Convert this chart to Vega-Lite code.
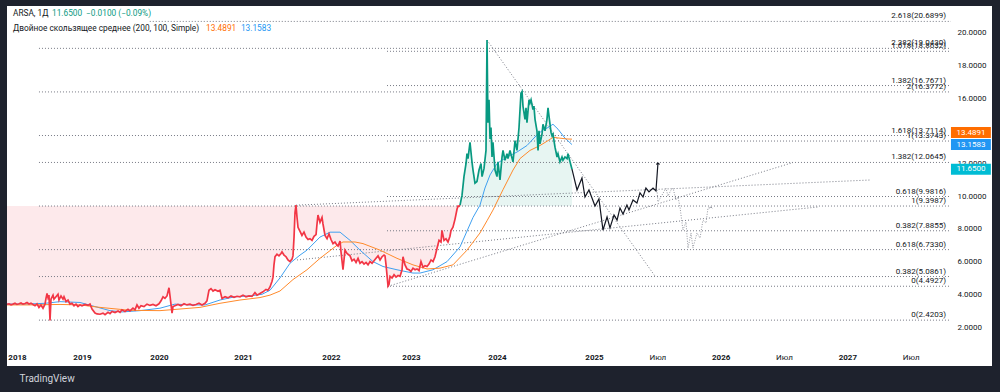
{
"$schema": "https://vega.github.io/schema/vega-lite/v6.json",
"width": 985, "height": 360,
"autosize": {"type": "none"},
"padding": {"left": 7, "top": 6, "right": 8, "bottom": 26},
"background": "#1e222d",
"config": {"view": {"stroke": null, "fill": "#ffffff"}, "font": "Roboto",
  "axis": {"grid": false, "domain": false, "ticks": false, "tickSize": 0, "labelPadding": 0, "title": null, "labelColor": "#131722", "labelFontSize": 8, "labelFont": "Roboto", "labelOverlap": false, "labelFlush": false, "labelBound": false}},
"title": {"text": "TradingView", "orient": "bottom", "anchor": "start", "color": "#d1d4dc", "fontSize": 10, "fontWeight": "normal", "font": "Roboto", "offset": 8, "dx": 16},
"datasets": {
"price": [
{"t":2017.846,"v":3.39},{"t":2017.877,"v":3.42},{"t":2017.908,"v":3.36},{"t":2017.938,"v":3.40},{"t":2017.969,"v":3.45},{"t":2018.000,"v":3.38},{"t":2018.031,"v":3.42},{"t":2018.062,"v":3.47},{"t":2018.092,"v":3.40},{"t":2018.123,"v":3.44},{"t":2018.154,"v":3.50},{"t":2018.185,"v":3.41},{"t":2018.215,"v":3.46},{"t":2018.246,"v":3.38},{"t":2018.277,"v":3.30},{"t":2018.308,"v":3.42},{"t":2018.338,"v":3.20},{"t":2018.369,"v":3.35},{"t":2018.400,"v":3.15},{"t":2018.431,"v":3.40},{"t":2018.446,"v":3.75},{"t":2018.462,"v":4.05},{"t":2018.477,"v":3.80},{"t":2018.492,"v":3.95},{"t":2018.508,"v":2.40},{"t":2018.523,"v":3.70},{"t":2018.554,"v":3.95},{"t":2018.569,"v":3.70},{"t":2018.600,"v":3.85},{"t":2018.631,"v":4.00},{"t":2018.646,"v":3.65},{"t":2018.677,"v":3.90},{"t":2018.708,"v":3.70},{"t":2018.723,"v":3.85},{"t":2018.754,"v":3.55},{"t":2018.785,"v":3.65},{"t":2018.815,"v":3.40},{"t":2018.846,"v":3.45},{"t":2018.877,"v":3.30},{"t":2018.908,"v":3.40},{"t":2018.938,"v":3.25},{"t":2018.969,"v":3.35},{"t":2019.000,"v":3.30},
{"t":2019.039,"v":3.38},{"t":2019.078,"v":3.32},{"t":2019.104,"v":3.40},{"t":2019.130,"v":3.10},{"t":2019.169,"v":2.85},{"t":2019.195,"v":2.80},{"t":2019.234,"v":2.78},{"t":2019.273,"v":2.85},{"t":2019.299,"v":2.76},{"t":2019.338,"v":2.90},{"t":2019.364,"v":2.82},{"t":2019.390,"v":2.95},{"t":2019.429,"v":2.88},{"t":2019.468,"v":2.98},{"t":2019.494,"v":2.90},{"t":2019.519,"v":3.05},{"t":2019.558,"v":2.95},{"t":2019.597,"v":3.08},{"t":2019.623,"v":2.98},{"t":2019.662,"v":3.15},{"t":2019.688,"v":3.05},{"t":2019.714,"v":3.35},{"t":2019.740,"v":3.15},{"t":2019.766,"v":3.30},{"t":2019.805,"v":3.25},{"t":2019.844,"v":3.40},{"t":2019.883,"v":3.32},{"t":2019.922,"v":3.38},{"t":2019.961,"v":3.30},{"t":2020.000,"v":3.42},
{"t":2020.024,"v":3.60},{"t":2020.048,"v":3.85},{"t":2020.071,"v":3.75},{"t":2020.095,"v":3.90},{"t":2020.119,"v":4.40},{"t":2020.131,"v":3.90},{"t":2020.155,"v":2.85},{"t":2020.167,"v":3.25},{"t":2020.190,"v":3.30},{"t":2020.226,"v":3.38},{"t":2020.262,"v":3.30},{"t":2020.298,"v":3.42},{"t":2020.333,"v":3.35},{"t":2020.369,"v":3.40},{"t":2020.405,"v":3.32},{"t":2020.440,"v":3.38},{"t":2020.476,"v":3.45},{"t":2020.512,"v":3.35},{"t":2020.548,"v":3.45},{"t":2020.571,"v":3.60},{"t":2020.595,"v":4.25},{"t":2020.619,"v":4.35},{"t":2020.643,"v":4.20},{"t":2020.667,"v":4.28},{"t":2020.702,"v":4.18},{"t":2020.726,"v":4.25},{"t":2020.750,"v":3.75},{"t":2020.786,"v":3.85},{"t":2020.821,"v":3.78},{"t":2020.857,"v":3.90},{"t":2020.893,"v":3.82},{"t":2020.929,"v":3.88},{"t":2020.964,"v":3.85},{"t":2021.000,"v":3.95},
{"t":2021.034,"v":3.85},{"t":2021.068,"v":3.90},{"t":2021.102,"v":3.87},{"t":2021.136,"v":4.10},{"t":2021.159,"v":3.95},{"t":2021.193,"v":4.05},{"t":2021.227,"v":4.15},{"t":2021.261,"v":4.30},{"t":2021.284,"v":4.25},{"t":2021.307,"v":4.45},{"t":2021.330,"v":4.80},{"t":2021.341,"v":5.05},{"t":2021.352,"v":5.80},{"t":2021.364,"v":6.30},{"t":2021.386,"v":6.45},{"t":2021.409,"v":6.35},{"t":2021.432,"v":6.50},{"t":2021.443,"v":6.60},{"t":2021.466,"v":6.40},{"t":2021.489,"v":6.30},{"t":2021.511,"v":6.10},{"t":2021.534,"v":6.00},{"t":2021.557,"v":6.15},{"t":2021.568,"v":6.35},{"t":2021.580,"v":7.50},{"t":2021.591,"v":9.00},{"t":2021.602,"v":9.45},{"t":2021.614,"v":8.70},{"t":2021.625,"v":8.10},{"t":2021.648,"v":7.85},{"t":2021.670,"v":7.60},{"t":2021.693,"v":7.80},{"t":2021.716,"v":7.50},{"t":2021.739,"v":7.35},{"t":2021.761,"v":7.40},{"t":2021.784,"v":7.30},{"t":2021.807,"v":7.55},{"t":2021.830,"v":7.65},{"t":2021.841,"v":8.30},{"t":2021.852,"v":8.85},{"t":2021.875,"v":8.40},{"t":2021.898,"v":8.70},{"t":2021.909,"v":8.30},{"t":2021.932,"v":7.60},{"t":2021.955,"v":7.40},{"t":2021.977,"v":7.70},{"t":2022.000,"v":7.35},
{"t":2022.025,"v":7.10},{"t":2022.050,"v":7.20},{"t":2022.075,"v":7.00},{"t":2022.088,"v":6.95},{"t":2022.113,"v":7.25},{"t":2022.125,"v":6.60},{"t":2022.150,"v":5.50},{"t":2022.175,"v":6.70},{"t":2022.200,"v":6.50},{"t":2022.238,"v":6.35},{"t":2022.263,"v":6.05},{"t":2022.288,"v":6.15},{"t":2022.313,"v":5.95},{"t":2022.338,"v":6.20},{"t":2022.363,"v":5.90},{"t":2022.388,"v":6.00},{"t":2022.413,"v":5.85},{"t":2022.438,"v":5.95},{"t":2022.463,"v":5.80},{"t":2022.488,"v":6.00},{"t":2022.513,"v":5.90},{"t":2022.538,"v":6.05},{"t":2022.563,"v":6.20},{"t":2022.588,"v":6.35},{"t":2022.613,"v":6.10},{"t":2022.638,"v":6.30},{"t":2022.663,"v":6.40},{"t":2022.675,"v":6.35},{"t":2022.688,"v":5.80},{"t":2022.713,"v":4.50},{"t":2022.725,"v":4.60},{"t":2022.738,"v":5.10},{"t":2022.763,"v":5.00},{"t":2022.788,"v":5.20},{"t":2022.813,"v":5.05},{"t":2022.838,"v":5.15},{"t":2022.863,"v":5.10},{"t":2022.888,"v":5.50},{"t":2022.900,"v":6.30},{"t":2022.925,"v":5.80},{"t":2022.950,"v":5.55},{"t":2022.975,"v":5.50},{"t":2023.000,"v":5.40},
{"t":2023.023,"v":5.60},{"t":2023.047,"v":5.50},{"t":2023.070,"v":5.55},{"t":2023.093,"v":5.45},{"t":2023.116,"v":6.00},{"t":2023.140,"v":5.65},{"t":2023.163,"v":5.75},{"t":2023.186,"v":5.70},{"t":2023.209,"v":5.85},{"t":2023.233,"v":6.10},{"t":2023.256,"v":6.00},{"t":2023.279,"v":6.30},{"t":2023.302,"v":6.80},{"t":2023.326,"v":7.30},{"t":2023.349,"v":7.20},{"t":2023.360,"v":7.90},{"t":2023.384,"v":7.30},{"t":2023.407,"v":7.40},{"t":2023.430,"v":7.20},{"t":2023.453,"v":7.55},{"t":2023.465,"v":7.90},{"t":2023.488,"v":8.10},{"t":2023.512,"v":8.60},{"t":2023.535,"v":9.20},{"t":2023.547,"v":9.40},{"t":2023.558,"v":9.38},{"t":2023.570,"v":9.45},
{"t":2023.593,"v":10.05},{"t":2023.616,"v":11.2},{"t":2023.640,"v":12.0},{"t":2023.651,"v":12.6},{"t":2023.663,"v":12.3},{"t":2023.686,"v":13.3},{"t":2023.709,"v":12.1},{"t":2023.721,"v":11.6},{"t":2023.744,"v":10.8},{"t":2023.767,"v":10.9},{"t":2023.791,"v":11.6},{"t":2023.814,"v":12.0},{"t":2023.826,"v":11.2},{"t":2023.849,"v":11.7},{"t":2023.872,"v":12.8},{"t":2023.884,"v":19.55},{"t":2023.895,"v":14.5},{"t":2023.907,"v":15.9},{"t":2023.919,"v":13.5},{"t":2023.930,"v":14.2},{"t":2023.942,"v":12.4},{"t":2023.953,"v":13.3},{"t":2023.977,"v":11.6},{"t":2024.000,"v":11.2},{"t":2024.010,"v":12.1},{"t":2024.031,"v":11.0},{"t":2024.052,"v":12.4},{"t":2024.062,"v":12.8},{"t":2024.082,"v":12.2},{"t":2024.103,"v":12.6},{"t":2024.113,"v":12.3},{"t":2024.134,"v":12.8},{"t":2024.165,"v":12.1},{"t":2024.186,"v":13.4},{"t":2024.206,"v":12.8},{"t":2024.227,"v":14.2},{"t":2024.247,"v":16.3},{"t":2024.258,"v":16.4},{"t":2024.268,"v":15.5},{"t":2024.289,"v":14.7},{"t":2024.299,"v":15.4},{"t":2024.309,"v":14.5},{"t":2024.330,"v":15.9},{"t":2024.340,"v":15.7},{"t":2024.351,"v":15.9},{"t":2024.371,"v":15.3},{"t":2024.381,"v":15.5},{"t":2024.392,"v":14.7},{"t":2024.412,"v":14.0},{"t":2024.423,"v":12.8},{"t":2024.433,"v":14.0},{"t":2024.443,"v":13.2},{"t":2024.464,"v":13.8},{"t":2024.474,"v":14.4},{"t":2024.495,"v":14.0},{"t":2024.515,"v":14.7},{"t":2024.526,"v":15.4},{"t":2024.536,"v":14.9},{"t":2024.557,"v":13.9},{"t":2024.567,"v":13.7},{"t":2024.577,"v":13.8},{"t":2024.598,"v":13.0},{"t":2024.619,"v":12.4},{"t":2024.629,"v":12.6},{"t":2024.649,"v":12.1},{"t":2024.670,"v":12.4},{"t":2024.680,"v":12.2},{"t":2024.701,"v":12.4},{"t":2024.722,"v":12.3},{"t":2024.732,"v":12.6},{"t":2024.753,"v":12.1},{"t":2024.773,"v":11.65}
],
"ma": [
{"m":"100","t":2017.846,"v":3.40},{"m":"100","t":2018.123,"v":3.40},{"m":"100","t":2018.431,"v":3.45},{"m":"100","t":2018.662,"v":3.55},{"m":"100","t":2018.969,"v":3.50},{"m":"100","t":2019.169,"v":3.25},{"m":"100","t":2019.364,"v":3.00},{"m":"100","t":2019.519,"v":2.92},{"m":"100","t":2019.753,"v":3.00},{"m":"100","t":2020.012,"v":3.15},{"m":"100","t":2020.190,"v":3.40},{"m":"100","t":2020.369,"v":3.35},{"m":"100","t":2020.548,"v":3.35},{"m":"100","t":2020.726,"v":3.65},{"m":"100","t":2020.905,"v":3.85},{"m":"100","t":2021.080,"v":3.90},{"m":"100","t":2021.216,"v":4.00},{"m":"100","t":2021.307,"v":4.25},{"m":"100","t":2021.420,"v":5.00},{"m":"100","t":2021.534,"v":5.90},{"m":"100","t":2021.648,"v":6.40},{"m":"100","t":2021.727,"v":6.70},{"m":"100","t":2021.875,"v":7.50},{"m":"100","t":2021.989,"v":7.80},{"m":"100","t":2022.113,"v":7.80},{"m":"100","t":2022.238,"v":7.30},{"m":"100","t":2022.363,"v":6.70},{"m":"100","t":2022.525,"v":6.00},{"m":"100","t":2022.650,"v":5.70},{"m":"100","t":2022.825,"v":5.50},{"m":"100","t":2023.023,"v":5.30},{"m":"100","t":2023.105,"v":5.30},{"m":"100","t":2023.256,"v":5.50},{"m":"100","t":2023.419,"v":6.00},{"m":"100","t":2023.570,"v":6.90},{"m":"100","t":2023.721,"v":8.70},{"m":"100","t":2023.802,"v":9.45},{"m":"100","t":2023.860,"v":10.5},{"m":"100","t":2023.919,"v":11.3},{"m":"100","t":2024.000,"v":12.0},{"m":"100","t":2024.103,"v":12.4},{"m":"100","t":2024.206,"v":12.7},{"m":"100","t":2024.309,"v":13.1},{"m":"100","t":2024.412,"v":13.75},{"m":"100","t":2024.474,"v":14.05},{"m":"100","t":2024.526,"v":14.2},{"m":"100","t":2024.577,"v":14.4},{"m":"100","t":2024.629,"v":14.1},{"m":"100","t":2024.701,"v":13.55},{"m":"100","t":2024.773,"v":13.1583},
{"m":"200","t":2017.846,"v":3.35},{"m":"200","t":2018.200,"v":3.35},{"m":"200","t":2018.662,"v":3.38},{"m":"200","t":2018.969,"v":3.35},{"m":"200","t":2019.234,"v":3.20},{"m":"200","t":2019.623,"v":3.02},{"m":"200","t":2020.012,"v":3.00},{"m":"200","t":2020.250,"v":3.10},{"m":"200","t":2020.488,"v":3.20},{"m":"200","t":2020.726,"v":3.45},{"m":"200","t":2020.964,"v":3.65},{"m":"200","t":2021.193,"v":3.80},{"m":"200","t":2021.307,"v":3.95},{"m":"200","t":2021.420,"v":4.20},{"m":"200","t":2021.568,"v":4.90},{"m":"200","t":2021.727,"v":5.50},{"m":"200","t":2021.875,"v":6.20},{"m":"200","t":2022.075,"v":7.00},{"m":"200","t":2022.150,"v":7.20},{"m":"200","t":2022.300,"v":7.20},{"m":"200","t":2022.400,"v":7.10},{"m":"200","t":2022.613,"v":6.70},{"m":"200","t":2022.825,"v":6.20},{"m":"200","t":2023.023,"v":5.80},{"m":"200","t":2023.186,"v":5.55},{"m":"200","t":2023.337,"v":5.60},{"m":"200","t":2023.488,"v":5.80},{"m":"200","t":2023.651,"v":6.70},{"m":"200","t":2023.802,"v":7.75},{"m":"200","t":2023.884,"v":8.50},{"m":"200","t":2023.953,"v":9.15},{"m":"200","t":2024.062,"v":10.4},{"m":"200","t":2024.165,"v":11.6},{"m":"200","t":2024.237,"v":12.3},{"m":"200","t":2024.340,"v":12.8},{"m":"200","t":2024.443,"v":13.1},{"m":"200","t":2024.526,"v":13.4},{"m":"200","t":2024.577,"v":13.6},{"m":"200","t":2024.649,"v":13.55},{"m":"200","t":2024.722,"v":13.5},{"m":"200","t":2024.773,"v":13.4891}
],
"fib": [
{"label":"0(2.4203)","t":2018.338,"t1":2027.818,"v":2.4203},
{"label":"0.382(5.0861)","t":2018.338,"t1":2027.818,"v":5.0861},
{"label":"0.618(6.7330)","t":2018.338,"t1":2027.818,"v":6.733},
{"label":"1(9.3987)","t":2018.338,"t1":2027.818,"v":9.3987},
{"label":"1.382(12.0645)","t":2018.338,"t1":2027.818,"v":12.0645},
{"label":"1.618(13.7114)","t":2018.338,"t1":2027.818,"v":13.7114},
{"label":"2(16.3772)","t":2018.338,"t1":2027.818,"v":16.3772},
{"label":"2.382(19.0430)","t":2018.338,"t1":2027.818,"v":19.043},
{"label":"2.618(20.6899)","t":2019.88,"t1":2027.818,"v":20.6899},
{"label":"0(4.4927)","t":2022.70,"t1":2027.818,"v":4.4927},
{"label":"0.382(7.8855)","t":2022.70,"t1":2027.818,"v":7.8855},
{"label":"0.618(9.9816)","t":2022.70,"t1":2027.818,"v":9.9816},
{"label":"1(13.3743)","t":2022.70,"t1":2027.818,"v":13.3743},
{"label":"1.382(16.7671)","t":2022.70,"t1":2027.818,"v":16.7671},
{"label":"1.618(18.8632)","t":2022.70,"t1":2027.818,"v":18.8632}
],
"trend": [
{"t":2023.884,"t1":2025.481,"v":19.55,"v1":5.12},
{"t":2022.713,"t1":2026.571,"v":4.49,"v1":12.06},
{"t":2021.602,"t1":2027.178,"v":9.45,"v1":10.99},
{"t":2021.614,"t1":2026.768,"v":6.10,"v1":9.34}
],
"path": [
{"t":2024.773,"v":11.65},{"t":2024.825,"v":10.38},{"t":2024.876,"v":11.11},{"t":2024.907,"v":9.95},{"t":2024.948,"v":10.38},{"t":2025.008,"v":9.40},{"t":2025.039,"v":9.83},{"t":2025.071,"v":7.93},{"t":2025.103,"v":8.73},{"t":2025.126,"v":8.06},{"t":2025.158,"v":8.85},{"t":2025.182,"v":8.54},{"t":2025.205,"v":9.28},{"t":2025.229,"v":8.91},{"t":2025.260,"v":9.46},{"t":2025.276,"v":9.16},{"t":2025.308,"v":9.77},{"t":2025.339,"v":9.58},{"t":2025.363,"v":10.20},{"t":2025.387,"v":9.95},{"t":2025.410,"v":10.50},{"t":2025.434,"v":10.26},{"t":2025.466,"v":10.50},{"t":2025.489,"v":10.32},{"t":2025.505,"v":12.03}
],
"ghost": [
{"t":2025.497,"v":10.38},{"t":2025.505,"v":9.65},{"t":2025.537,"v":10.07},{"t":2025.568,"v":10.50},{"t":2025.584,"v":10.01},{"t":2025.608,"v":10.38},{"t":2025.624,"v":10.50},{"t":2025.647,"v":9.77},{"t":2025.663,"v":9.95},{"t":2025.679,"v":9.34},{"t":2025.702,"v":7.93},{"t":2025.726,"v":8.42},{"t":2025.742,"v":6.83},{"t":2025.766,"v":7.75},{"t":2025.781,"v":6.83},{"t":2025.813,"v":7.75},{"t":2025.837,"v":7.44},{"t":2025.860,"v":8.54},{"t":2025.884,"v":8.36},{"t":2025.900,"v":9.28},{"t":2025.923,"v":9.34}
]
},
"layer": [
  {"data": {"name": "price"}, "transform": [{"filter": "datum.t <= 2023.57"}], "mark": {"type": "area", "color": "#fde9eb"},
   "encoding": {
    "x": {"field": "t", "type": "quantitative",
      "scale": {"domain": [2017.846, 2018, 2019, 2020, 2021, 2022, 2023, 2024, 2025, 2028.142], "range": [0, 10, 75, 152, 236, 324, 404, 490, 587, 985], "nice": false, "zero": false},
      "axis": {"orient": "bottom", "values": [2018, 2019, 2020, 2021, 2022, 2023, 2024, 2025, 2025.5, 2026, 2026.5, 2027, 2027.5],
        "labelExpr": "datum.value % 1 === 0 ? format(datum.value, 'd') : 'Июл'",
        "offset": -9, "labelBaseline": "middle", "labelAlign": "center", "labelFlush": false, "labelOverlap": false,
        "labelFontWeight": {"condition": {"test": "datum.value % 1 === 0", "value": "bold"}, "value": "normal"}, "title": null}},
    "y": {"field": "v", "type": "quantitative",
      "scale": {"domain": [-0.385, 21.633], "nice": false, "zero": false},
      "axis": {"orient": "right", "values": [2, 4, 6, 8, 10, 12, 14, 16, 18, 20], "format": ".4f", "labelAlign": "left", "labelBaseline": "middle", "offset": -35, "labelOverlap": false, "title": null}},
    "y2": {"datum": 9.4}}},
  {"data": {"name": "price"}, "transform": [{"filter": "datum.t >= 2023.57"}], "mark": {"type": "area", "color": "#e7f5f2"},
   "encoding": {"x": {"field": "t", "type": "quantitative"}, "y": {"field": "v", "type": "quantitative", "axis": {"orient": "right", "values": [2, 4, 6, 8, 10, 12, 14, 16, 18, 20], "format": ".4f", "labelAlign": "left", "labelBaseline": "middle", "offset": -35, "labelOverlap": false, "title": null}}, "y2": {"datum": 9.4}}},
  {"data": {"name": "fib"}, "mark": {"type": "rule", "color": "#787b86", "strokeDash": [1, 2], "strokeWidth": 1},
   "encoding": {"x": {"field": "t", "type": "quantitative"}, "x2": {"field": "t1"}, "y": {"field": "v", "type": "quantitative", "axis": {"orient": "right", "values": [2, 4, 6, 8, 10, 12, 14, 16, 18, 20], "format": ".4f", "labelAlign": "left", "labelBaseline": "middle", "offset": -35, "labelOverlap": false, "title": null}}}},
  {"data": {"name": "trend"}, "mark": {"type": "rule", "color": "#787b86", "strokeDash": [1, 2], "strokeWidth": 1},
   "encoding": {"x": {"field": "t", "type": "quantitative"}, "x2": {"field": "t1"}, "y": {"field": "v", "type": "quantitative", "axis": {"orient": "right", "values": [2, 4, 6, 8, 10, 12, 14, 16, 18, 20], "format": ".4f", "labelAlign": "left", "labelBaseline": "middle", "offset": -35, "labelOverlap": false, "title": null}}, "y2": {"field": "v1"}}},
  {"data": {"name": "ma"}, "mark": {"type": "line", "strokeWidth": 1},
   "encoding": {"x": {"field": "t", "type": "quantitative"}, "y": {"field": "v", "type": "quantitative", "axis": {"orient": "right", "values": [2, 4, 6, 8, 10, 12, 14, 16, 18, 20], "format": ".4f", "labelAlign": "left", "labelBaseline": "middle", "offset": -35, "labelOverlap": false, "title": null}},
     "color": {"field": "m", "type": "nominal", "scale": {"domain": ["200", "100"], "range": ["#ff8a2b", "#3fa0f0"]}, "legend": null}}},
  {"data": {"name": "price"}, "transform": [{"filter": "datum.t <= 2023.57"}], "mark": {"type": "line", "color": "#f23645", "strokeWidth": 1.7},
   "encoding": {"x": {"field": "t", "type": "quantitative"}, "y": {"field": "v", "type": "quantitative", "axis": {"orient": "right", "values": [2, 4, 6, 8, 10, 12, 14, 16, 18, 20], "format": ".4f", "labelAlign": "left", "labelBaseline": "middle", "offset": -35, "labelOverlap": false, "title": null}}}},
  {"data": {"name": "price"}, "transform": [{"filter": "datum.t >= 2023.57"}], "mark": {"type": "line", "color": "#089981", "strokeWidth": 1.7},
   "encoding": {"x": {"field": "t", "type": "quantitative"}, "y": {"field": "v", "type": "quantitative", "axis": {"orient": "right", "values": [2, 4, 6, 8, 10, 12, 14, 16, 18, 20], "format": ".4f", "labelAlign": "left", "labelBaseline": "middle", "offset": -35, "labelOverlap": false, "title": null}}}},
  {"data": {"name": "ghost"}, "mark": {"type": "line", "color": "#9598a1", "strokeWidth": 1, "strokeDash": [1, 1.5]},
   "encoding": {"x": {"field": "t", "type": "quantitative"}, "y": {"field": "v", "type": "quantitative", "axis": {"orient": "right", "values": [2, 4, 6, 8, 10, 12, 14, 16, 18, 20], "format": ".4f", "labelAlign": "left", "labelBaseline": "middle", "offset": -35, "labelOverlap": false, "title": null}}}},
  {"data": {"name": "path"}, "mark": {"type": "line", "color": "#131722", "strokeWidth": 1.2},
   "encoding": {"x": {"field": "t", "type": "quantitative"}, "y": {"field": "v", "type": "quantitative", "axis": {"orient": "right", "values": [2, 4, 6, 8, 10, 12, 14, 16, 18, 20], "format": ".4f", "labelAlign": "left", "labelBaseline": "middle", "offset": -35, "labelOverlap": false, "title": null}}}},
  {"data": {"values": [{}]}, "mark": {"type": "point", "shape": "M-0.5,0.45L0,0L0.5,0.45", "size": 40, "filled": false, "stroke": "#131722", "strokeWidth": 1.2, "opacity": 1},
   "encoding": {"x": {"datum": 2025.505, "type": "quantitative"}, "y": {"datum": 12.03, "type": "quantitative", "axis": {"orient": "right", "values": [2, 4, 6, 8, 10, 12, 14, 16, 18, 20], "format": ".4f", "labelAlign": "left", "labelBaseline": "middle", "offset": -35, "labelOverlap": false, "title": null}}}},
  {"data": {"values": [{}]}, "mark": {"type": "point", "shape": "M-0.5,0.45L0,0L0.5,0.45", "size": 30, "filled": false, "stroke": "#9598a1", "strokeWidth": 1, "opacity": 1},
   "encoding": {"x": {"datum": 2025.923, "type": "quantitative"}, "y": {"datum": 9.34, "type": "quantitative", "axis": {"orient": "right", "values": [2, 4, 6, 8, 10, 12, 14, 16, 18, 20], "format": ".4f", "labelAlign": "left", "labelBaseline": "middle", "offset": -35, "labelOverlap": false, "title": null}}}},
  {"data": {"name": "fib"}, "mark": {"type": "text", "align": "right", "baseline": "bottom", "dx": -5, "dy": -1, "fontSize": 8, "color": "#131722"},
   "encoding": {"x": {"field": "t1", "type": "quantitative"}, "y": {"field": "v", "type": "quantitative", "axis": {"orient": "right", "values": [2, 4, 6, 8, 10, 12, 14, 16, 18, 20], "format": ".4f", "labelAlign": "left", "labelBaseline": "middle", "offset": -35, "labelOverlap": false, "title": null}}, "text": {"field": "label"}}},
  {"data": {"values": [{}]}, "mark": {"type": "text", "align": "left", "baseline": "middle", "fontSize": 8.3, "color": "#131722", "text": "ARSA, 1Д"},
   "encoding": {"x": {"datum": 2017.938, "type": "quantitative"}, "y": {"datum": 21.14, "type": "quantitative", "axis": {"orient": "right", "values": [2, 4, 6, 8, 10, 12, 14, 16, 18, 20], "format": ".4f", "labelAlign": "left", "labelBaseline": "middle", "offset": -35, "labelOverlap": false, "title": null}}}},
  {"data": {"values": [{}]}, "mark": {"type": "text", "align": "left", "baseline": "middle", "fontSize": 8.3, "color": "#089981", "text": "11.6500"},
   "encoding": {"x": {"datum": 2018.538, "type": "quantitative"}, "y": {"datum": 21.14, "type": "quantitative", "axis": {"orient": "right", "values": [2, 4, 6, 8, 10, 12, 14, 16, 18, 20], "format": ".4f", "labelAlign": "left", "labelBaseline": "middle", "offset": -35, "labelOverlap": false, "title": null}}}},
  {"data": {"values": [{}]}, "mark": {"type": "text", "align": "left", "baseline": "middle", "fontSize": 8.3, "color": "#089981", "text": "−0.0100 (−0.09%)"},
   "encoding": {"x": {"datum": 2019.052, "type": "quantitative"}, "y": {"datum": 21.14, "type": "quantitative", "axis": {"orient": "right", "values": [2, 4, 6, 8, 10, 12, 14, 16, 18, 20], "format": ".4f", "labelAlign": "left", "labelBaseline": "middle", "offset": -35, "labelOverlap": false, "title": null}}}},
  {"data": {"values": [{}]}, "mark": {"type": "text", "align": "left", "baseline": "middle", "fontSize": 8.3, "color": "#131722", "text": "Двойное скользящее среднее (200, 100, Simple)"},
   "encoding": {"x": {"datum": 2017.938, "type": "quantitative"}, "y": {"datum": 20.23, "type": "quantitative", "axis": {"orient": "right", "values": [2, 4, 6, 8, 10, 12, 14, 16, 18, 20], "format": ".4f", "labelAlign": "left", "labelBaseline": "middle", "offset": -35, "labelOverlap": false, "title": null}}}},
  {"data": {"values": [{}]}, "mark": {"type": "text", "align": "left", "baseline": "middle", "fontSize": 8.3, "color": "#ff6d00", "text": "13.4891"},
   "encoding": {"x": {"datum": 2020.56, "type": "quantitative"}, "y": {"datum": 20.23, "type": "quantitative", "axis": {"orient": "right", "values": [2, 4, 6, 8, 10, 12, 14, 16, 18, 20], "format": ".4f", "labelAlign": "left", "labelBaseline": "middle", "offset": -35, "labelOverlap": false, "title": null}}}},
  {"data": {"values": [{}]}, "mark": {"type": "text", "align": "left", "baseline": "middle", "fontSize": 8.3, "color": "#2196f3", "text": "13.1583"},
   "encoding": {"x": {"datum": 2020.975, "type": "quantitative"}, "y": {"datum": 20.23, "type": "quantitative", "axis": {"orient": "right", "values": [2, 4, 6, 8, 10, 12, 14, 16, 18, 20], "format": ".4f", "labelAlign": "left", "labelBaseline": "middle", "offset": -35, "labelOverlap": false, "title": null}}}},
  {"data": {"values": [{}]}, "mark": {"type": "rect", "color": "#ff6d00"},
   "encoding": {"x": {"datum": 2027.818, "type": "quantitative"}, "x2": {"datum": 2028.133}, "y": {"datum": 14.232, "type": "quantitative", "axis": {"orient": "right", "values": [2, 4, 6, 8, 10, 12, 14, 16, 18, 20], "format": ".4f", "labelAlign": "left", "labelBaseline": "middle", "offset": -35, "labelOverlap": false, "title": null}}, "y2": {"datum": 13.56}}},
  {"data": {"values": [{}]}, "mark": {"type": "rect", "color": "#2196f3"},
   "encoding": {"x": {"datum": 2027.818, "type": "quantitative"}, "x2": {"datum": 2028.133}, "y": {"datum": 13.494, "type": "quantitative", "axis": {"orient": "right", "values": [2, 4, 6, 8, 10, 12, 14, 16, 18, 20], "format": ".4f", "labelAlign": "left", "labelBaseline": "middle", "offset": -35, "labelOverlap": false, "title": null}}, "y2": {"datum": 12.822}}},
  {"data": {"values": [{}]}, "mark": {"type": "rect", "color": "#00bcd4"},
   "encoding": {"x": {"datum": 2027.818, "type": "quantitative"}, "x2": {"datum": 2028.133}, "y": {"datum": 11.986, "type": "quantitative", "axis": {"orient": "right", "values": [2, 4, 6, 8, 10, 12, 14, 16, 18, 20], "format": ".4f", "labelAlign": "left", "labelBaseline": "middle", "offset": -35, "labelOverlap": false, "title": null}}, "y2": {"datum": 11.314}}},
  {"data": {"values": [{}]}, "mark": {"type": "text", "align": "center", "baseline": "middle", "fontSize": 8, "color": "#ffffff", "text": "13.4891"},
   "encoding": {"x": {"datum": 2027.976, "type": "quantitative"}, "y": {"datum": 13.896, "type": "quantitative", "axis": {"orient": "right", "values": [2, 4, 6, 8, 10, 12, 14, 16, 18, 20], "format": ".4f", "labelAlign": "left", "labelBaseline": "middle", "offset": -35, "labelOverlap": false, "title": null}}}},
  {"data": {"values": [{}]}, "mark": {"type": "text", "align": "center", "baseline": "middle", "fontSize": 8, "color": "#ffffff", "text": "13.1583"},
   "encoding": {"x": {"datum": 2027.976, "type": "quantitative"}, "y": {"datum": 13.158, "type": "quantitative", "axis": {"orient": "right", "values": [2, 4, 6, 8, 10, 12, 14, 16, 18, 20], "format": ".4f", "labelAlign": "left", "labelBaseline": "middle", "offset": -35, "labelOverlap": false, "title": null}}}},
  {"data": {"values": [{}]}, "mark": {"type": "text", "align": "center", "baseline": "middle", "fontSize": 8, "color": "#ffffff", "text": "11.6500"},
   "encoding": {"x": {"datum": 2027.976, "type": "quantitative"}, "y": {"datum": 11.65, "type": "quantitative", "axis": {"orient": "right", "values": [2, 4, 6, 8, 10, 12, 14, 16, 18, 20], "format": ".4f", "labelAlign": "left", "labelBaseline": "middle", "offset": -35, "labelOverlap": false, "title": null}}}}
]
}
